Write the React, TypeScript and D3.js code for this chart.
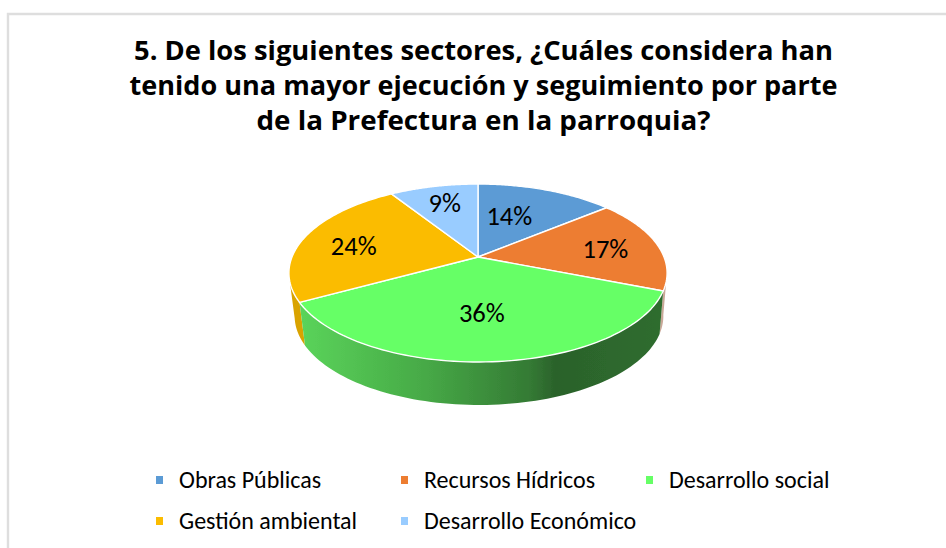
import React from "react";
import * as d3 from "d3";

const titleLines = [
  "5. De los siguientes sectores, ¿Cuáles considera han",
  "tenido una mayor ejecución y seguimiento por parte",
  "de la Prefectura en la parroquia?",
];
const categories = ["Obras Públicas", "Recursos Hídricos", "Desarrollo social", "Gestión ambiental", "Desarrollo Económico"];
const values = [14, 17, 36, 24, 9];
const colors = ["#5b9bd5", "#ed7d31", "#66ff66", "#fbbc00", "#99ccff"];

const W = 946, H = 548;
const cx = 478, cy = 257;
const B = 186, A = 86.1, t = 0.18;
const depth = 43, sideScale = 0.975, sideShift = 1;
const labelNudge = [[-12, 1], [19, 0], [-4, -2], [-19, 1.5], [-5, -9]];
const legendX = [162, 407, 652];
const legendY = [480, 521];
const titleY = [60, 95, 130];
const titleWidth = [699, 708, 454];

// perspective projection of the tilted disc
const top = (a: number, r = 1): [number, number] => {
  const d = 1 + t * r * Math.cos(a);
  return [cx + (B * r * Math.sin(a)) / d, cy - (A * r * Math.cos(a)) / d];
};
const bottom = (a: number): [number, number] => {
  const d = 1 + t * Math.cos(a);
  return [cx + sideShift + (sideScale * B * Math.sin(a)) / d, cy + depth - (A * Math.cos(a)) / d];
};

const arcs = d3.pie<number>().sort(null)(values);
const line = d3.line();
const range = (a0: number, a1: number) => d3.range(0, 81).map((i) => a0 + ((a1 - a0) * i) / 80);
const topPath = (a0: number, a1: number) =>
  line([[cx, cy], ...range(a0, a1).map((a) => top(a))]) + "Z";
const sidePath = (a0: number, a1: number) =>
  line([...range(a0, a1).map((a) => top(a)), ...range(a1, a0).map((a) => bottom(a))]) + "Z";

const font = "Carlito, Lato, 'Open Sans', sans-serif";

export default function App() {
  const orange = arcs[1], green = arcs[2], yellow = arcs[3];
  const rad = Math.PI / 180;
  return (
    <svg width={W} height={H} viewBox={`0 0 ${W} ${H}`} style={{ position: "fixed", left: 0, top: 0, background: "#fff" }}>
      <defs>
        <linearGradient id="greenSide" gradientUnits="userSpaceOnUse" x1={302} x2={664} y1={0} y2={0}>
          <stop offset="0" stopColor="#5ad35a" />
          <stop offset="0.35" stopColor="#46a846" />
          <stop offset="0.63" stopColor="#347a34" />
          <stop offset="0.7" stopColor="#2b622b" />
          <stop offset="1" stopColor="#2f6d2f" />
        </linearGradient>
        <filter id="soft" x="-5%" y="-5%" width="110%" height="110%">
          <feGaussianBlur stdDeviation="0.45" />
        </filter>
      </defs>
      <path d={`M8 548V14H946`} fill="none" stroke="#dedede" strokeWidth={2.4} />
      <g textAnchor="middle" fontFamily="'Open Sans', Lato, sans-serif" fontWeight={700} fontSize={27.4} fill="#000">
        {titleLines.map((s, i) => (
          <text key={i} x={483.5} y={titleY[i]} textLength={titleWidth[i]} lengthAdjust="spacingAndGlyphs">{s}</text>
        ))}
      </g>
      <g filter="url(#soft)">
        <path d={sidePath(yellow.startAngle, 258 * rad)} fill="#d9a300" />
        <path d={sidePath(orange.endAngle - 12 * rad, orange.endAngle)} fill="#c9a898" />
        <path d={sidePath(green.startAngle, green.endAngle)} fill="url(#greenSide)" />
        {arcs.map((d, i) => (
          <path key={i} d={topPath(d.startAngle, d.endAngle)} fill={colors[i]} stroke="#fff" strokeWidth={1.4} strokeLinejoin="round" />
        ))}
      </g>
      <g textAnchor="middle" fontFamily={font} fontSize={26.5} fill="#000">
        {arcs.map((d, i) => {
          const [x, y] = top((d.startAngle + d.endAngle) / 2, 0.6);
          return (
            <text key={i} x={x + labelNudge[i][0]} y={y + labelNudge[i][1]} dy="0.35em">{`${values[i]}%`}</text>
          );
        })}
      </g>
      <g fontFamily={font} fontSize={24} fill="#000">
        {categories.map((c, i) => {
          const x = legendX[i % 3], y = legendY[Math.floor(i / 3)];
          return (
            <g key={c}>
              <rect x={x - 6} y={y - 4} width={7} height={8} fill={colors[i]} />
              <text x={x + 17} y={y} dy="0.35em">{c}</text>
            </g>
          );
        })}
      </g>
    </svg>
  );
}
